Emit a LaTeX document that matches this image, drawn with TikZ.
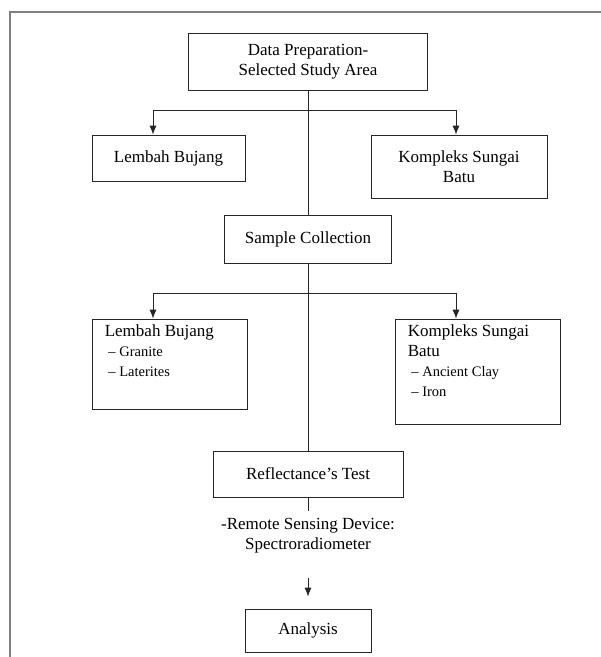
\documentclass[tikz,border=0pt]{standalone}
\usepackage{fontspec}
\setmainfont{Liberation Serif}
\usetikzlibrary{arrows.meta}
\tikzset{box/.style={rectangle,draw=black!85,line width=0.8pt,align=center,inner sep=2pt}}
\tikzset{txt/.style={align=left,inner sep=0pt,anchor=north west}}
\tikzset{l/.style={line width=0.8pt,black!85}}
\tikzset{a/.style={l,->,>={Latex[length=9pt,width=7pt]}}}
\newcommand{\itemfont}{\fontsize{14.5}{19}\selectfont}

\begin{document}
\begin{tikzpicture}[x=1pt,y=-1pt,font=\fontsize{17}{20}\selectfont]
  \useasboundingbox (0,0) rectangle (601,657);
  \draw[gray,line width=2pt] (601,12) -- (10,12) -- (10,657);
      \node[box,minimum width=239,minimum height=57] (DP) at (308,61.5) {Data Preparation-\\Selected Study Area};
      \node[box,minimum width=153,minimum height=46] (LB1) at (168.5,158) {Lembah Bujang};
      \node[box,minimum width=176,minimum height=63] (KS1) at (459,166.5) {Kompleks Sungai\\Batu};
      \node[box,minimum width=167,minimum height=48] (SC) at (308,239) {Sample Collection};
      \node[box,minimum width=155,minimum height=90] (LB2) at (169.5,364) {};
      \node[box,minimum width=165,minimum height=105] (KS2) at (477.5,371.5) {};
      \node[txt] (LB2t) at ([shift={(13,6)}]LB2.north west) {Lembah Bujang\\{\itemfont\ -- Granite}\\{\itemfont\ -- Laterites}};
      \node[txt] (KS2t) at ([shift={(13,6)}]KS2.north west) {Kompleks Sungai\\Batu\\{\itemfont\ -- Ancient Clay}\\{\itemfont\ -- Iron}};
      \node[box,minimum width=190,minimum height=46] (RT) at (308,474) {Reflectance's Test};
      \node[align=center,inner sep=0pt] (RSD) at (308,536) {-Remote Sensing Device:\\Spectroradiometer};
      \node[box,minimum width=126,minimum height=43] (AN) at (308,630.5) {Analysis};
      \coordinate (J1) at (308,110);
      \coordinate (J2) at (308,293);
      \draw[l] (DP) -- (SC);
      \draw[l] (SC) -- (RT);
      \draw[a] (J1) -| ([xshift=-15.5]LB1.north);
      \draw[a] (J1) -| ([xshift=-3]KS1.north);
      \draw[a] (J2) -| ([xshift=-16.5]LB2.north);
      \draw[a] (J2) -| ([xshift=-21.5]KS2.north);
      \draw[l,shorten >=7] (RT) -- (RSD);
      \draw[a,shorten <=24,shorten >=12] (RSD) -- (AN);
    \end{tikzpicture}
\end{document}
